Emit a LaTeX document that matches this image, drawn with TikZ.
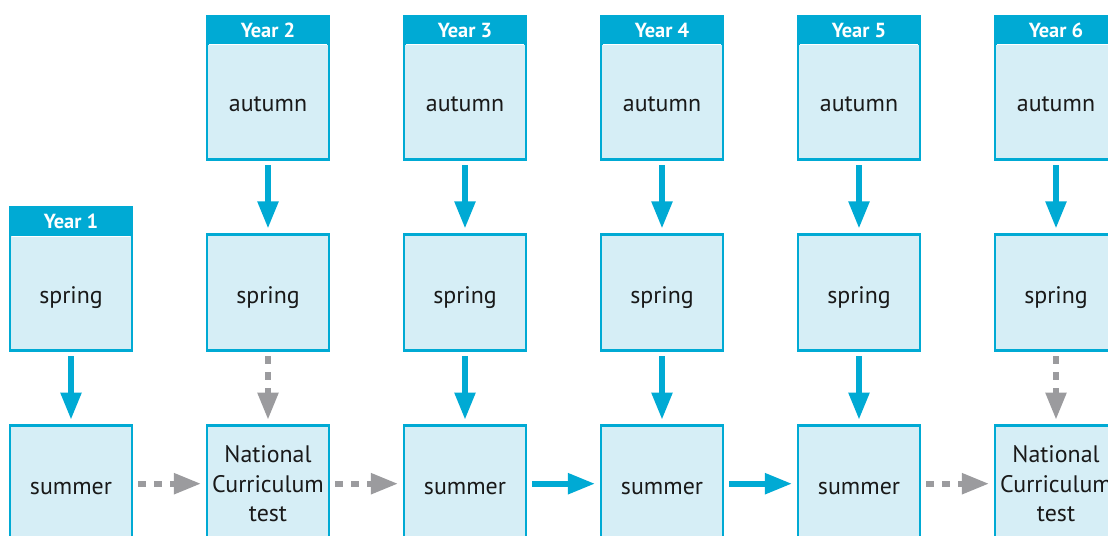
\documentclass[tikz,border=0pt]{standalone}
\usepackage{fontspec}
\setmainfont{PT Sans}
\usetikzlibrary{arrows.meta,positioning}
\definecolor{termblue}{HTML}{00AAD4}
\definecolor{termfill}{HTML}{D6EEF6}
\definecolor{testgray}{HTML}{9B9B9E}

\begin{document}
\begin{tikzpicture}[node distance=4.925cm,
  term/.style={rectangle,draw=termblue,fill=termfill,line width=1.8pt,
    minimum width=3.05cm,minimum height=2.9cm,inner sep=0pt,outer sep=0pt,
    align=center,text=black!90,text height=0.6cm,text depth=0.07cm,
    font=\fontsize{17}{21.3}\selectfont},
  testbox/.style={term,text height=,text depth=},
  yearhead/.style={rectangle,draw=termblue,fill=termblue,line width=1.8pt,
    minimum width=3.05cm,minimum height=0.675cm,inner sep=0pt,outer sep=0pt,
    text=white,text height=0.5cm,text depth=0.12cm,
    font=\bfseries\fontsize{14.5}{16}\selectfont},
  go/.style={-{Triangle[length=0.68cm,width=0.5cm]},termblue,
    line width=0.14cm,shorten <=0.15cm,shorten >=0.15cm},
  maybe/.style={go,testgray,dash pattern=on 0.2cm off 0.2cm}]

  \useasboundingbox (0,0) rectangle (27.7,-13.4);
  \clip (0,0) rectangle (27.7,-13.4);

  \node[term] (s1) at (1.775,-7.3125) {spring};
  \node[term] (s2) [right of=s1] {spring};
  \node[term] (s3) [right of=s2] {spring};
  \node[term] (s4) [right of=s3] {spring};
  \node[term] (s5) [right of=s4] {spring};
  \node[term] (s6) [right of=s5] {spring};

  \node[term] (m1) [node distance=4.78cm,below of=s1] {summer};
  \node[testbox] (m2) [node distance=4.78cm,below of=s2] {National\\Curriculum\\test};
  \node[term] (m3) [node distance=4.78cm,below of=s3] {summer};
  \node[term] (m4) [node distance=4.78cm,below of=s4] {summer};
  \node[term] (m5) [node distance=4.78cm,below of=s5] {summer};
  \node[testbox] (m6) [node distance=4.78cm,below of=s6] {National\\Curriculum\\test};

  \foreach \i in {2,...,6}
    \node[term] (a\i) [node distance=4.78cm,above of=s\i] {autumn};

  % year labels on top of the first box of each column
  \node[yearhead] (y1) [above=0pt of s1] {Year 1};
  \foreach \i in {2,...,6}
    \node[yearhead] (y\i) [above=0pt of a\i] {Year \i};
  \foreach \i in {1,...,6}
    \draw[white,line width=0.6pt] ([xshift=0.05cm,yshift=-0.04cm]y\i.south west)
      -- ([xshift=-0.05cm,yshift=-0.04cm]y\i.south east);

  \path[go]
    (s1) edge (m1)
    (a2) edge (s2)
    (a3) edge (s3)
    (a4) edge (s4)
    (a5) edge (s5)
    (a6) edge (s6)
    (s3) edge (m3)
    (s4) edge (m4)
    (s5) edge (m5);
  \path[maybe]
    (s2) edge (m2)
    (s6) edge (m6);
  \path[shorten <=0.22cm,shorten >=0.22cm]
    (m1) edge[maybe] (m2)
    (m2) edge[maybe] (m3)
    (m3) edge[go] (m4)
    (m4) edge[go] (m5)
    (m5) edge[maybe] (m6);
\end{tikzpicture}
\end{document}
